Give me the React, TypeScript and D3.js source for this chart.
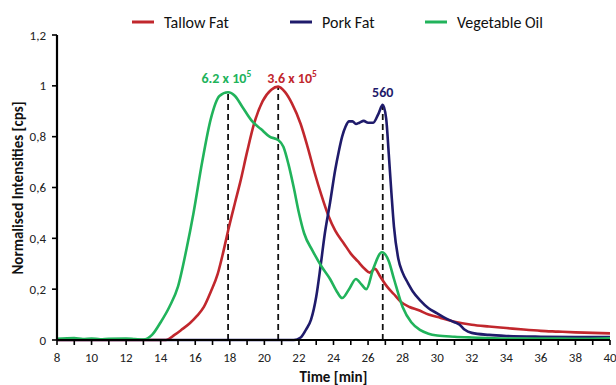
import React from 'react';
import * as d3 from 'd3';

// readings: [time (min), normalised intensity]
const tallowFat: [number, number][] = [
  [8, 0], [14.3, 0], [14.8, 0.02], [15.2, 0.04], [15.7, 0.067], [16.1, 0.095], [16.5, 0.13],
  [16.9, 0.19], [17.3, 0.26], [17.6, 0.34], [17.9, 0.43], [18.3, 0.54], [18.6, 0.62],
  [19.0, 0.74], [19.4, 0.85], [19.9, 0.94], [20.4, 0.985], [20.8, 0.997], [21.2, 0.975],
  [21.6, 0.93], [22.1, 0.85], [22.5, 0.76], [22.9, 0.66], [23.3, 0.57], [23.7, 0.49],
  [24.1, 0.43], [24.6, 0.38], [25.0, 0.34], [25.4, 0.31], [25.8, 0.28], [26.1, 0.265],
  [26.4, 0.28], [26.7, 0.25], [27.1, 0.21], [27.5, 0.18], [27.9, 0.15], [28.4, 0.13],
  [28.9, 0.118], [29.5, 0.1], [30.2, 0.087], [31, 0.072], [32, 0.06], [33, 0.053],
  [34, 0.047], [35, 0.041], [36, 0.036], [37, 0.033], [38, 0.03], [39, 0.028], [40, 0.026],
];

const porkFat: [number, number][] = [
  [8, 0], [21.7, 0], [22.1, 0.01], [22.4, 0.04], [22.7, 0.08], [23.0, 0.17], [23.25, 0.29],
  [23.5, 0.42], [23.8, 0.54], [24.1, 0.67], [24.3, 0.74], [24.5, 0.8], [24.7, 0.84],
  [24.9, 0.86], [25.1, 0.86], [25.3, 0.85], [25.5, 0.855], [25.75, 0.862], [26.0, 0.855],
  [26.3, 0.855], [26.6, 0.89], [26.85, 0.925], [27.05, 0.87], [27.2, 0.73], [27.35, 0.58],
  [27.5, 0.445], [27.75, 0.32], [28.0, 0.265], [28.3, 0.225], [28.6, 0.19], [29, 0.157],
  [29.5, 0.125], [30, 0.105], [30.5, 0.085], [31, 0.07], [31.3, 0.06], [31.6, 0.04],
  [32, 0.028], [33, 0.02], [34, 0.016], [36, 0.013], [38, 0.012], [40, 0.012],
];

const vegetableOil: [number, number][] = [
  [8, 0.005], [9, 0.008], [9.5, 0.004], [10, 0.006], [10.5, 0.003], [11, 0.005], [12, 0.006],
  [12.5, 0.004], [13, 0.002], [13.5, 0.02], [14, 0.07], [14.5, 0.13], [15, 0.21], [15.5, 0.36],
  [15.9, 0.5], [16.4, 0.7], [16.9, 0.87], [17.4, 0.96], [17.9, 0.975], [18.3, 0.96],
  [18.7, 0.92], [19.3, 0.86], [19.8, 0.83], [20.3, 0.8], [20.8, 0.787], [21.1, 0.76],
  [21.4, 0.69], [21.7, 0.6], [22.0, 0.5], [22.3, 0.42], [22.8, 0.35], [23.3, 0.29],
  [23.8, 0.24], [24.2, 0.19], [24.5, 0.165], [24.9, 0.2], [25.3, 0.24], [25.6, 0.22],
  [25.9, 0.2], [26.3, 0.28], [26.8, 0.345], [27.2, 0.31], [27.5, 0.24], [28.0, 0.13],
  [28.5, 0.07], [29, 0.04], [29.5, 0.025], [30, 0.018], [31, 0.013], [32, 0.01], [34, 0.006],
  [36, 0.006], [38, 0.005], [40, 0.007],
];

const seriesNames = ['Tallow Fat', 'Pork Fat', 'Vegetable Oil'];
const seriesColors = ['#c1272d', '#1f1b6b', '#21b35b'];

// dashed markers at the peak maxima
const peakTimes = [17.9, 20.8, 26.85];
const peakHeights = [0.975, 0.997, 0.925];
const peakLabels = ['6.2 x 10', '3.6 x 10', '560'];
const peakExp = ['5', '5', ''];
const peakColorIdx = [2, 0, 1];
// label centres, in minutes (labels do not sit exactly on the markers)
const peakLabelAt = [17.8, 21.6, 26.85];

const xTicks = d3.range(8, 41, 2);
const yTicks = [0, 0.2, 0.4, 0.6, 0.8, 1, 1.2];

const W = 616;
const H = 385;
const m = { top: 35, right: 6, bottom: 45, left: 57 };
const FONT = 'Carlito, Calibri, Lato, sans-serif';

const App = () => {
  const x = d3.scaleLinear().domain([8, 40]).range([m.left, W - m.right]);
  const y = d3.scaleLinear().domain([0, 1.2]).range([H - m.bottom, m.top]);
  const line = d3.line<[number, number]>()
    .x(d => x(d[0]))
    .y(d => y(d[1]))
    .curve(d3.curveMonotoneX);
  const allSeries = [tallowFat, porkFat, vegetableOil];
  const legendX = [132, 290, 425];

  return (
    <svg width={W} height={H} style={{ position: 'fixed', left: 0, top: 0, background: '#fff' }} fontFamily={FONT}>
      {/* legend */}
      {seriesNames.map((n, i) => (
        <g key={n} transform={`translate(${legendX[i]},22)`}>
          <line x1={0} x2={22} y1={0} y2={0} stroke={seriesColors[i]} strokeWidth={3} />
          <text x={32} y={6} fontSize={16} fill="#111">{n}</text>
        </g>
      ))}

      {/* dashed peak markers */}
      {peakTimes.map((t, i) => (
        <line key={'d' + i} x1={x(t)} x2={x(t)} y1={y(0)} y2={y(peakHeights[i])}
          stroke="#111" strokeWidth={1.8} strokeDasharray="6,4" />
      ))}

      {/* series */}
      {allSeries.map((s, i) => (
        <path key={seriesNames[i]} d={line(s) || ''} fill="none" stroke={seriesColors[i]} strokeWidth={2.6} />
      ))}

      {/* peak labels */}
      {peakTimes.map((t, i) => (
        <text key={'l' + i} x={x(peakLabelAt[i])} y={i === 2 ? 97 : 83} textAnchor="middle"
          fontSize={14} fontWeight="bold" fill={seriesColors[peakColorIdx[i]]}>
          {peakLabels[i]}
          {peakExp[i] && <tspan fontSize={9.5} dy={-6}>{peakExp[i]}</tspan>}
        </text>
      ))}

      {/* x axis */}
      <line x1={m.left} x2={W - m.right} y1={y(0)} y2={y(0)} stroke="#000" strokeWidth={2.2} />
      {d3.range(8, 41, 1).map(t => (
        <line key={'xt' + t} x1={x(t)} x2={x(t)} y1={y(0)} y2={y(0) + 5} stroke="#000" strokeWidth={1.6} />
      ))}
      {xTicks.map(t => (
        <text key={'xl' + t} x={x(t)} y={y(0) + 22} textAnchor="middle" fontSize={13} fill="#222">{t}</text>
      ))}
      <text x={(m.left + W - m.right) / 2} y={382} textAnchor="middle" fontSize={15} fontWeight="bold" fill="#111">Time [min]</text>

      {/* y axis */}
      <line x1={m.left} x2={m.left} y1={y(0)} y2={y(1.2)} stroke="#000" strokeWidth={2.2} />
      {yTicks.map(v => (
        <g key={'yt' + v}>
          <line x1={m.left - 5} x2={m.left} y1={y(v)} y2={y(v)} stroke="#000" strokeWidth={1.6} />
          <text x={m.left - 11} y={y(v) + 4.5} textAnchor="end" fontSize={13} fill="#222">
            {d3.format('.1~f')(v).replace('.', ',')}
          </text>
        </g>
      ))}
      <text transform={`translate(23,188) rotate(-90)`} textAnchor="middle" fontSize={15} fontWeight="bold" fill="#111">
        Normalised Intensities [cps]
      </text>
    </svg>
  );
};

export default App;
